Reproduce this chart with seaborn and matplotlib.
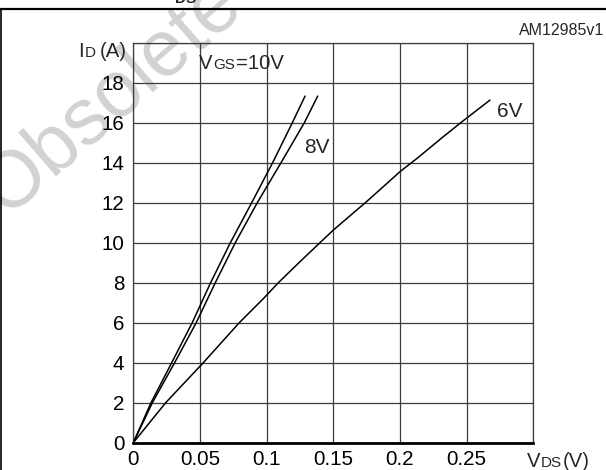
import matplotlib
matplotlib.use("Agg")
import matplotlib.pyplot as plt
from matplotlib.transforms import IdentityTransform
from matplotlib.lines import Line2D
import seaborn as sns
import pandas as pd

# Output characteristics: drain current vs drain-source voltage per gate voltage
vds_10v = [0, 0.0133, 0.0288, 0.0442, 0.058, 0.0728, 0.0888, 0.1045, 0.1193, 0.1288]
id_10v = [0, 2, 4, 6, 8, 10, 12, 14, 16, 17.33]

vds_8v = [0, 0.0143, 0.031, 0.0472, 0.0615, 0.0765, 0.093, 0.1108, 0.1283, 0.1383]
id_8v = [0, 2, 4, 6, 8, 10, 12, 14, 16, 17.33]

vds_6v = [0, 0.0243, 0.0525, 0.0795, 0.0975, 0.1088, 0.125, 0.14, 0.15, 0.174,
          0.1875, 0.2, 0.2125, 0.2325, 0.2475, 0.2675]
id_6v = [0, 2, 4, 6, 7.2, 8, 9.05, 10, 10.63, 12, 12.8, 13.55, 14.2, 15.3, 16.1, 17.13]

x_ticks = [0, 0.05, 0.1, 0.15, 0.2, 0.25]
x_tick_labels = ["0", "0.05", "0.1", "0.15", "0.2", "0.25"]
y_ticks = [0, 2, 4, 6, 8, 10, 12, 14, 16, 18]

frames = []
for name, xs, ys in [("10V", vds_10v, id_10v), ("8V", vds_8v, id_8v), ("6V", vds_6v, id_6v)]:
    frames.append(pd.DataFrame({"vds": xs, "id": ys, "vgs": name}))
df = pd.concat(frames, ignore_index=True)

sns.set_style("white")
plt.rcParams["font.family"] = ["Liberation Sans", "DejaVu Sans"]

W, H = 606, 470
fig = plt.figure(figsize=(W / 100, H / 100), dpi=100)
fig.patch.set_facecolor("white")


def px(x, y):
    """Image pixel coordinates (origin top-left) to figure fraction."""
    return x / W, 1 - y / H


# Watermark behind everything
wx, wy = px(112, 98)
fig.text(wx, wy, "Obsolete", fontsize=57, color="#d2d2d2", rotation=41,
         ha="center", va="center", rotation_mode="anchor", zorder=-5)

l, b = px(133.3, 442.7)
r, t = px(533.3, 42.7)
ax = fig.add_axes([l, b, r - l, t - b])
ax.patch.set_alpha(0)

grid_c = "#3c3c3c"
for v in ["10V", "8V", "6V"]:
    sns.lineplot(data=df[df["vgs"] == v], x="vds", y="id", sort=False,
                 estimator=None, color="black", linewidth=1.1, ax=ax, zorder=3)

ax.set_xlim(0, 0.3)
ax.set_ylim(0, 20)
ax.set_xticks(x_ticks + [0.3])
ax.set_xticklabels(x_tick_labels + [""])
ax.set_yticks(y_ticks + [20])
ax.set_yticklabels([str(v) for v in y_ticks] + [""])
ax.set_xlabel("")
ax.set_ylabel("")
ax.grid(True, color=grid_c, linewidth=0.9)
ax.tick_params(axis="both", length=0, labelsize=14.8, colors="black")
ax.tick_params(axis="x", pad=5.5)
ax.tick_params(axis="y", pad=6.5)
for side in ["left", "top", "right"]:
    ax.spines[side].set_color(grid_c)
    ax.spines[side].set_linewidth(0.9)
ax.spines["bottom"].set_color("black")
ax.spines["bottom"].set_linewidth(2.0)
ax.spines["bottom"].set_zorder(4)

renderer = fig.canvas.get_renderer()


def rich(x, y_base, pieces, **kw):
    """Draw text pieces (text, size, gap after) side by side on one baseline (pixels)."""
    cur = x
    for s, size, gap in pieces:
        txt = fig.text(cur, H - y_base, s, fontsize=size, ha="left", va="baseline",
                       transform=IdentityTransform(), **kw)
        bb = txt.get_window_extent(renderer)
        cur = bb.x1 + gap


big, small = 14.6, 11.0
rich(78.3, 57.3, [("I", big, 1.2), ("D", small, 4.0), ("(A)", big, 0)])
rich(199.3, 69.3, [("V", big, 0.5), ("GS", small, 0.5), ("=10V", big, 0)])
rich(526.7, 467.3, [("V", big, 0.5), ("DS", small, 0.5), ("(V)", big, 0)])

fx, fy = px(304, 153.3)
fig.text(fx, fy, "8V", fontsize=15, ha="left", va="baseline")
fx, fy = px(497.3, 117.3)
fig.text(fx, fy, "6V", fontsize=15, ha="left", va="baseline")

fx, fy = px(604, 35)
fig.text(fx, fy, "AM12985v1", fontsize=11.5, ha="right", va="baseline")

fx, fy = px(175, 3.3)
fig.text(fx, fy, "DS", fontsize=11, fontweight="bold", ha="left", va="baseline")

# Frame around the panel
fig.add_artist(Line2D([0, 1], [1 - 8.7 / H] * 2, transform=fig.transFigure,
                      color="black", linewidth=1.6))
fig.add_artist(Line2D([0.6 / W] * 2, [0, 1 - 8.7 / H], transform=fig.transFigure,
                      color="black", linewidth=1.2))

fig.savefig("out.png", dpi=100)
